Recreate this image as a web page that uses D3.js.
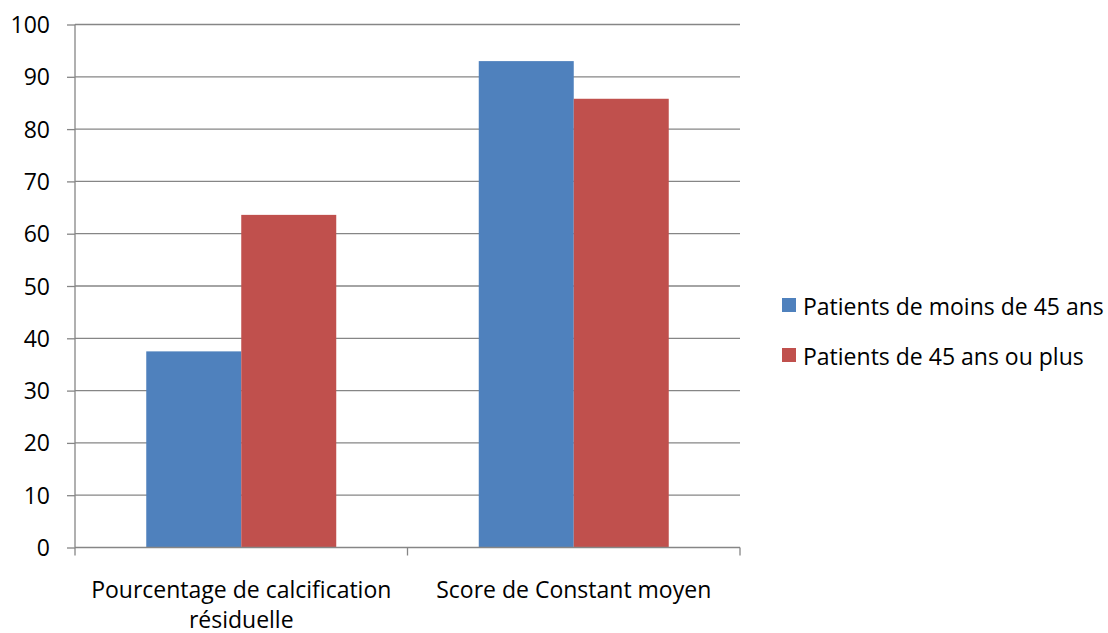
<!DOCTYPE html>
<html><head><meta charset="utf-8">
<script src="https://cdn.jsdelivr.net/npm/d3@7/dist/d3.min.js"></script>
<style>body{margin:0;background:#fff}svg{display:block}text{font-family:"Open Sans",sans-serif;fill:#000}</style>
</head><body><svg id="c" width="1108" height="633"></svg>
<script>
const categories = [["Pourcentage de calcification","résiduelle"],["Score de Constant moyen"]];
const seriesNames = ["Patients de moins de 45 ans","Patients de 45 ans ou plus"];
const seriesColors = ["#4F81BD","#C0504D"];
const under45 = [37.5, 93.0];
const over45 = [63.6, 85.8];
const yTicks = [0,10,20,30,40,50,60,70,80,90,100];

const svg = d3.select("#c");
const L = 75, R = 740, T = 24.5, B = 547.5;
const x = d3.scaleBand().domain(d3.range(categories.length)).range([L,R]).paddingInner(0).paddingOuter(0);
const y = d3.scaleLinear().domain([0,100]).range([B,T]);
const grey = "#868686";
const fs = 23;
const ff = "'Open Sans', sans-serif";

// gridlines
svg.append("g").selectAll("line").data(yTicks.filter(d=>d>0)).join("line")
  .attr("x1",L).attr("x2",R).attr("y1",d=>y(d)).attr("y2",d=>y(d))
  .attr("stroke",grey).attr("stroke-width",1.3);

// bars
const groupW = x.bandwidth()*0.5714;
const barW = groupW/2;
const series = [under45, over45];
series.forEach((vals,si)=>{
  svg.append("g").selectAll("rect").data(vals).join("rect")
    .attr("x",(d,i)=>x(i)+(x.bandwidth()-groupW)/2+si*barW)
    .attr("width",barW)
    .attr("y",d=>y(d)).attr("height",d=>B-y(d))
    .attr("fill",seriesColors[si]);
});

// y axis
const ya = svg.append("g").attr("transform",`translate(${L},0)`)
  .call(d3.axisLeft(y).tickValues(yTicks).tickSize(8).tickPadding(17).tickFormat(d3.format("d")));
ya.select(".domain").attr("stroke",grey).attr("stroke-width",1.3).attr("d",`M0,${T}V${B}`);
ya.selectAll(".tick line").attr("stroke",grey).attr("stroke-width",1.3);
ya.selectAll(".tick text").attr("font-size",fs).attr("font-family",ff).attr("fill","#000").attr("dy","0.35em");

// x axis
const xa = svg.append("g").attr("transform",`translate(0,${B})`);
xa.append("line").attr("x1",L).attr("x2",R).attr("stroke",grey).attr("stroke-width",1.3);
const bounds = [L, ...d3.range(categories.length).map(i=>x(i)+x.bandwidth())];
xa.selectAll(".tk").data(bounds).join("line").attr("class","tk")
  .attr("x1",d=>d).attr("x2",d=>d).attr("y1",0).attr("y2",8).attr("stroke",grey).attr("stroke-width",1.3);
categories.forEach((lines,i)=>{
  lines.forEach((ln,j)=>{
    xa.append("text").attr("x",x(i)+x.bandwidth()/2).attr("y",50+j*30)
      .attr("text-anchor","middle").attr("font-size",fs).text(ln);
  });
});

// legend
const lg = svg.append("g");
seriesNames.forEach((n,i)=>{
  const yy = 298 + i*50;
  lg.append("rect").attr("x",782).attr("y",yy).attr("width",14).attr("height",14).attr("fill",seriesColors[i]);
  lg.append("text").attr("x",803).attr("y",yy+17).attr("font-size",fs).text(n);
});
</script></body></html>
